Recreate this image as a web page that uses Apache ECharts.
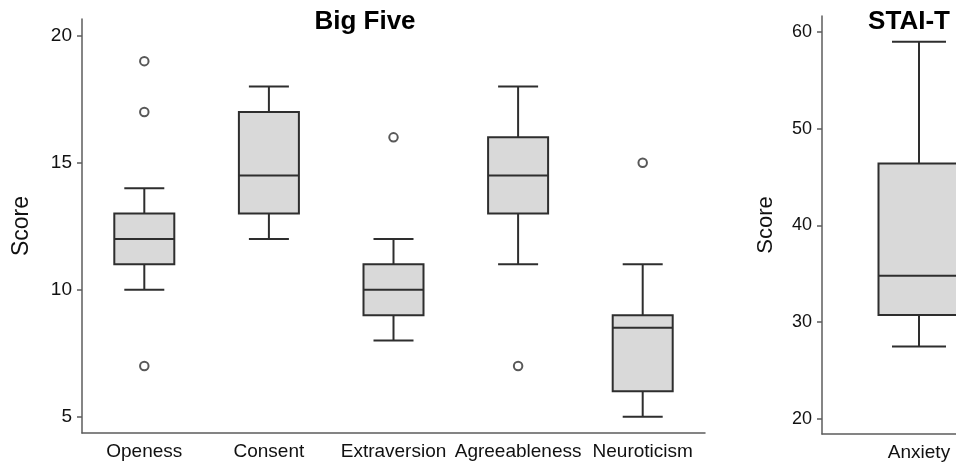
<!DOCTYPE html>
<html>
<head>
<meta charset="utf-8">
<script src="https://cdn.jsdelivr.net/npm/echarts@6/dist/echarts.min.js"></script>
<style>
html,body{margin:0;padding:0;background:#fff;}
#chart{width:956px;height:462px;}
</style>
</head>
<body>
<div id="chart"></div>
<script>
// ---- Data ----
const bigFiveCategories = ['Openess', 'Consent', 'Extraversion', 'Agreeableness', 'Neuroticism'];
const bigFiveLow    = [10, 12, 8, 11, 5];
const bigFiveQ1     = [11, 13, 9, 13, 6];
const bigFiveMedian = [12, 14.5, 10, 14.5, 8.5];
const bigFiveQ3     = [13, 17, 11, 16, 9];
const bigFiveHigh   = [14, 18, 12, 18, 11];
const bigFiveOutliers = [['Openess', 19], ['Openess', 17], ['Openess', 7], ['Extraversion', 16], ['Agreeableness', 7], ['Neuroticism', 15]];
const bigFiveTicks = [5, 10, 15, 20];

const staiCategories = ['Anxiety'];
const staiLow    = [27.5];
const staiQ1     = [30.75];
const staiMedian = [34.8];
const staiQ3     = [46.4];
const staiHigh   = [59];
const staiTicks = [20, 30, 40, 50, 60];

// ---- Styles ----
const FONT = "'Liberation Sans', Arial, sans-serif";
const STROKE = '#2e2e2e';
const AXIS = '#5c5c5c';
const FILL = '#d9d9d9';

function buildRows(low, q1, med, q3, high) {
  return low.map((v, i) => [i, low[i], q1[i], med[i], q3[i], high[i]]);
}

function boxRenderer(boxW) {
  return function (params, api) {
    const idx = api.value(0);
    const pLow = api.coord([idx, api.value(1)]);
    const pQ1 = api.coord([idx, api.value(2)]);
    const pMed = api.coord([idx, api.value(3)]);
    const pQ3 = api.coord([idx, api.value(4)]);
    const pHigh = api.coord([idx, api.value(5)]);
    const cx = pLow[0];
    const half = boxW / 2;
    const cap = boxW / 3;
    const ls = { stroke: STROKE, lineWidth: 2, fill: null };
    return {
      type: 'group',
      children: [
        { type: 'line', shape: { x1: cx, y1: pHigh[1], x2: cx, y2: pQ3[1] }, style: ls },
        { type: 'line', shape: { x1: cx, y1: pQ1[1], x2: cx, y2: pLow[1] }, style: ls },
        { type: 'line', shape: { x1: cx - cap, y1: pHigh[1], x2: cx + cap, y2: pHigh[1] }, style: ls },
        { type: 'line', shape: { x1: cx - cap, y1: pLow[1], x2: cx + cap, y2: pLow[1] }, style: ls },
        { type: 'rect', shape: { x: cx - half, y: pQ3[1], width: boxW, height: pQ1[1] - pQ3[1] },
          style: { fill: FILL, stroke: STROKE, lineWidth: 2 } },
        { type: 'line', shape: { x1: cx - half, y1: pMed[1], x2: cx + half, y2: pMed[1] }, style: ls }
      ]
    };
  };
}

function yAxis(gridIndex, min, max, ticks, nameGap, labelSize, nameSize) {
  return {
    type: 'value', gridIndex: gridIndex, min: min, max: max,
    name: 'Score', nameLocation: 'middle', nameRotate: 90, nameGap: nameGap,
    nameTextStyle: { fontFamily: FONT, fontSize: nameSize, color: '#111' },
    axisLine: { show: true, lineStyle: { color: AXIS, width: 1.5 } },
    axisTick: { show: true, length: 5, customValues: ticks, lineStyle: { color: AXIS, width: 1.5 } },
    axisLabel: { customValues: ticks, margin: 10, fontFamily: FONT, fontSize: labelSize, color: '#111' },
    splitLine: { show: false }
  };
}

function xAxis(gridIndex, cats) {
  return {
    type: 'category', gridIndex: gridIndex, data: cats, boundaryGap: true,
    axisLine: { show: true, onZero: false, lineStyle: { color: AXIS, width: 1.5 } },
    axisTick: { show: false },
    axisLabel: { margin: 9, fontFamily: FONT, fontSize: 19, color: '#111', interval: 0 },
    splitLine: { show: false }
  };
}

const chart = echarts.init(document.getElementById('chart'), null, { renderer: 'canvas' });
chart.setOption({
  animation: false,
  backgroundColor: '#fff',
  graphic: [
    { type: 'text', x: 365, y: 22, style: { text: 'Big Five', font: "bold 26px 'Liberation Sans', Arial, sans-serif", fill: '#000', textAlign: 'center', textVerticalAlign: 'middle' } },
    { type: 'text', x: 909, y: 22, style: { text: 'STAI-T', font: "bold 26px 'Liberation Sans', Arial, sans-serif", fill: '#000', textAlign: 'center', textVerticalAlign: 'middle' } }
  ],
  grid: [
    { left: 82, right: 251, top: 19, bottom: 29, containLabel: false, outerBoundsMode: 'none' },
    { left: 822, right: -60, top: 16, bottom: 28, containLabel: false, outerBoundsMode: 'none' }
  ],
  xAxis: [xAxis(0, bigFiveCategories), xAxis(1, staiCategories)],
  yAxis: [
    yAxis(0, 4.36, 20.66, bigFiveTicks, 49, 19, 23),
    yAxis(1, 18.45, 61.65, staiTicks, 45, 18, 22)
  ],
  series: [
    {
      type: 'custom', xAxisIndex: 0, yAxisIndex: 0,
      renderItem: boxRenderer(60),
      encode: { x: 0, y: [1, 2, 3, 4, 5] },
      data: buildRows(bigFiveLow, bigFiveQ1, bigFiveMedian, bigFiveQ3, bigFiveHigh)
    },
    {
      type: 'scatter', xAxisIndex: 0, yAxisIndex: 0,
      symbol: 'emptyCircle', symbolSize: 8.5,
      itemStyle: { color: STROKE, borderColor: STROKE, borderWidth: 1.8 },
      data: bigFiveOutliers
    },
    {
      type: 'custom', xAxisIndex: 1, yAxisIndex: 1,
      renderItem: boxRenderer(81),
      encode: { x: 0, y: [1, 2, 3, 4, 5] },
      data: buildRows(staiLow, staiQ1, staiMedian, staiQ3, staiHigh)
    }
  ]
});
</script>
</body>
</html>
